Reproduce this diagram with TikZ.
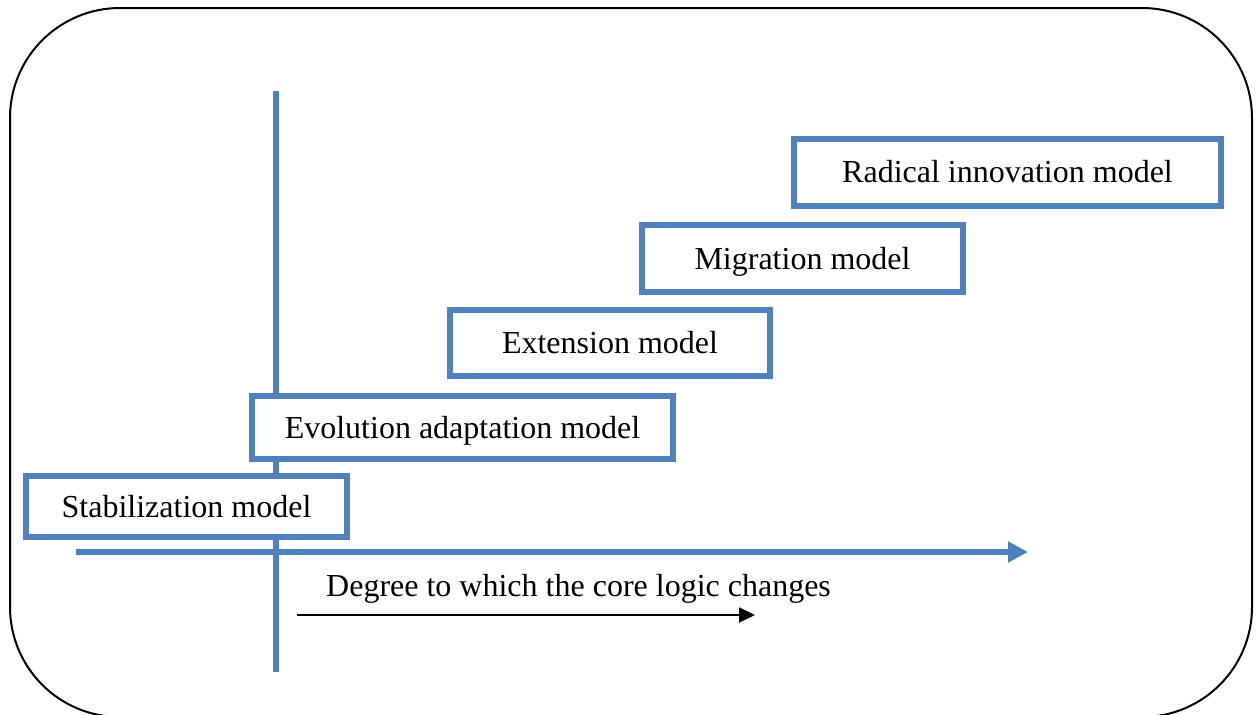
\documentclass[tikz,border=0pt]{standalone}
\usepackage{fontspec}
\setmainfont{Liberation Serif}
\usetikzlibrary{arrows.meta}
\definecolor{axisblue}{HTML}{4F81BD}
\tikzset{
  modelbox/.style={draw=axisblue, line width=6pt, fill=white, inner sep=0pt,
    text height=21.5pt, text depth=0pt, font=\fontsize{32}{38}\selectfont},
  axisline/.style={draw=axisblue, line width=6pt},
  frame/.style={draw=black, line width=2pt, rounded corners=110pt},
  plainlabel/.style={inner sep=0pt, font=\fontsize{32}{38}\selectfont}
}
\begin{document}
\begin{tikzpicture}[x=1pt, y=-1pt]
  \clip (0,0) rectangle (1256,715);
  % outer rounded frame (its lower edge runs just past the page)
  \draw[frame] (10,8) rectangle (1252,717);

  % axes
  \coordinate (vtop) at (276,91);
  \coordinate (vbot) at (276,672);
  \coordinate (hstart) at (76,552);
  \coordinate (hend) at (1028,552);
  \draw[axisline] (vtop) -- (vbot);
  \draw[axisline, -{Triangle[length=20pt,width=20pt]}] (hstart) -- (hend);

  % model boxes, stepping up and to the right
  \node[modelbox, minimum width=321pt, minimum height=61pt] (stab) at (186.5,506.5) {Stabilization model};
  \node[modelbox, minimum width=421pt, minimum height=63pt] (evol) at (462.5,427.5) {Evolution adaptation model};
  \node[modelbox, minimum width=320pt, minimum height=66pt] (ext) at (610,343) {Extension model};
  \node[modelbox, minimum width=321pt, minimum height=67pt] (migr) at (802.5,258.5) {Migration model};
  \node[modelbox, minimum width=427pt, minimum height=67pt] (radi) at (1007.5,172) {Radical innovation model};

  % axis caption with its arrow
  \node[plainlabel, anchor=base west] (caption) at (326,596) {Degree to which the core logic changes};
  \coordinate (astart) at (297,615);
  \coordinate (aend) at (755,615);
  \draw[line width=2pt, -{Triangle[length=16pt,width=15pt]}] (astart) -- (aend);
\end{tikzpicture}
\end{document}
